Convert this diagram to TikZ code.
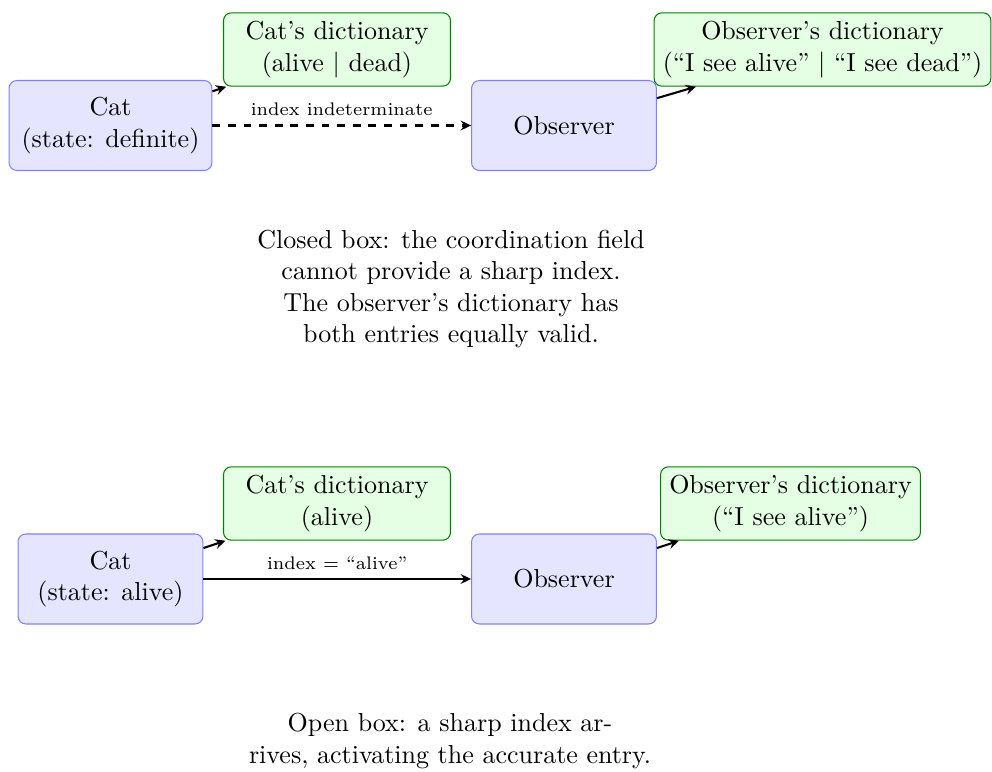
\documentclass[tikz,border=0pt]{standalone}
\usetikzlibrary{arrows.meta}
\begin{document}
\begin{tikzpicture}[x=0.3846pt, y=-0.3846pt,
  agent/.style={draw=blue!50, fill=blue!10, rounded corners=3pt,
    minimum width=71.1pt, minimum height=34.6pt, align=center},
  dict/.style={draw=green!50!black, fill=green!10, rounded corners=3pt,
    minimum width=87.3pt, align=center},
  link/.style={thick, -{Stealth[length=4pt, width=3.8pt, inset=1.4pt]}},
  tag/.style={font=\scriptsize, above},
  caption/.style={align=center}]
\useasboundingbox (0,0) rectangle (992,772);

% closed box
\node[agent, minimum width=78pt] (cat1) at (110.5,125.5) {Cat\\(state: definite)};
\node[agent] (obs1) at (564,125.5) {Observer};
\node[dict] (catdict1) at (337,49.5) {Cat’s dictionary\\(alive | dead)};
\node[dict] (obsdict1) at (822.5,49.5) {Observer’s dictionary\\(“I see alive” | “I see dead”)};
\draw[link] (cat1) -- (catdict1);
\draw[link, dashed] (cat1) -- node[tag] {index indeterminate} (obs1);
\draw[link] (obs1) -- (obsdict1);
\node[caption] (note1) at (451,289) {Closed box: the coordination field\\cannot provide a sharp index.\\The observer’s dictionary has\\both entries equally valid.};

% open box
\node[agent] (cat2) at (110.5,579) {Cat\\(state: alive)};
\node[agent] (obs2) at (564,579) {Observer};
\node[dict] (catdict2) at (337,503.5) {Cat’s dictionary\\(alive)};
\node[dict] (obsdict2) at (790.5,503.5) {Observer’s dictionary\\(“I see alive”)};
\draw[link] (cat2) -- (catdict2);
\draw[link] (cat2) -- node[tag] {index = “alive”} (obs2);
\draw[link] (obs2) -- (obsdict2);
\node[caption] (note2) at (450,741) {Open box: a sharp index ar-\\rives, activating the accurate entry.};
\end{tikzpicture}
\end{document}
